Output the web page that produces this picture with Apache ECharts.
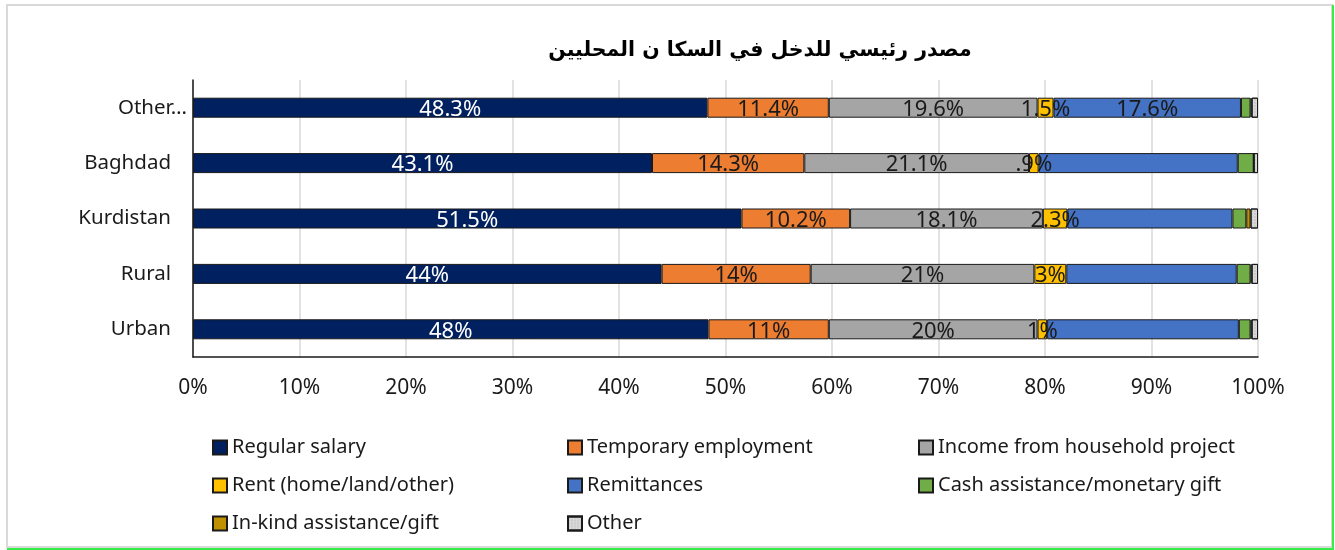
<!DOCTYPE html>
<html>
<head>
<meta charset="utf-8">
<script src="https://cdn.jsdelivr.net/npm/echarts@6/dist/echarts.min.js"></script>
<style>
  html, body { margin: 0; padding: 0; background: #fff; }
  #chart { width: 1335px; height: 550px; }
</style>
</head>
<body>
<div id="chart"></div>
<script>
// categories, bottom to top as ECharts draws them
const regions = ["Urban", "Rural", "Kurdistan", "Baghdad", "Other…"];
const labelDecimals = [0, 0, 1, 1, 1];
// only the top row carries a remittances label in the original
const remittanceLabelShown = [false, false, false, false, true];

const seriesNames = [
  "Regular salary",
  "Temporary employment",
  "Income from household project",
  "Rent (home/land/other)",
  "Remittances",
  "Cash assistance/monetary gift",
  "In-kind assistance/gift",
  "Other",
];

const regularSalary = [48.4, 44.0, 51.5, 43.1, 48.3];
const temporaryEmployment = [11.3, 14.0, 10.2, 14.3, 11.4];
const householdProject = [19.6, 21.0, 18.1, 21.1, 19.6];
const rent = [0.9, 3.0, 2.3, 0.9, 1.5];
const remittances = [18.0, 16.0, 15.5, 18.7, 17.6];
const cashAssistance = [1.1, 1.3, 1.3, 1.5, 0.9];
const inKindAssistance = [0.1, 0.1, 0.4, 0.0, 0.1];
const otherSource = [0.6, 0.6, 0.7, 0.4, 0.6];

const xTicks = [0, 10, 20, 30, 40, 50, 60, 70, 80, 90, 100];

const seriesValues = [
  regularSalary, temporaryEmployment, householdProject, rent,
  remittances, cashAssistance, inKindAssistance, otherSource,
];
const colors = ["#002060", "#ED7D31", "#A5A5A5", "#FFC000", "#4472C4", "#70AD47", "#BF9000", "#D9D9D9"];
const labelColors = ["#fff", "#1a1a1a", "#1a1a1a", "#1a1a1a", "#1a1a1a"];

const font = "Noto Sans";

function fmt(v, idx) {
  const d = labelDecimals[idx];
  let s = v.toFixed(d);
  if (d > 0) s = s.replace(/^0\./, ".");
  return s + "%";
}

const chart = echarts.init(document.getElementById("chart"));

const series = seriesNames.map((name, i) => ({
  name: name,
  type: "bar",
  stack: "total",
  barWidth: 20,
  data: seriesValues[i],
  itemStyle: {
    color: colors[i],
    borderColor: "#1a1a1a",
    borderWidth: 1,
    decal: i === 7 ? { symbol: "rect", symbolSize: 0.5, color: "rgba(120,120,120,0.6)", dashArrayX: [2, 1], dashArrayY: [2, 1] } : null,
  },
  label: {
    show: i < 5,
    position: "inside",
    color: labelColors[i] || "#1a1a1a",
    fontFamily: font,
    fontSize: 22,
    offset: [0, 2],
    formatter: (p) => {
      if (i === 4 && !remittanceLabelShown[p.dataIndex]) return "";
      return fmt(p.value, p.dataIndex);
    },
  },
  emphasis: { disabled: true },
}));

const legendBase = {
  orient: "vertical",
  top: 431,
  itemWidth: 14,
  itemHeight: 14,
  itemGap: 15,
  icon: "rect",
  selectedMode: false,
  textStyle: { fontFamily: font, fontSize: 20, color: "#1a1a1a", lineHeight: 23 },
};

const option = {
  animation: false,
  title: {
    text: "مصدر رئيسي للدخل في السكا ن المحليين",
    left: 755,
    top: 35,
    textAlign: "center",
    textStyle: { fontFamily: "DejaVu Sans", fontWeight: "bold", fontSize: 20.5, color: "#000" },
  },
  grid: { left: 193, right: 77, top: 80, bottom: 193 },
  xAxis: {
    type: "value",
    min: 0,
    max: 100,
    interval: 10,
    axisLine: { show: true, lineStyle: { color: "#1a1a1a", width: 1.5 } },
    axisTick: { show: false },
    splitLine: { show: true, lineStyle: { color: "#d9d9d9", width: 1.5 } },
    axisLabel: {
      margin: 21,
      fontFamily: font,
      fontSize: 21,
      color: "#1a1a1a",
      formatter: (v) => (xTicks.includes(v) ? v + "%" : ""),
    },
  },
  yAxis: {
    type: "category",
    data: regions,
    axisLine: { show: true, lineStyle: { color: "#1a1a1a", width: 1.5 } },
    axisTick: { show: false },
    axisLabel: {
      margin: 22,
      fontFamily: font,
      fontSize: 20.5,
      color: "#1a1a1a",
      formatter: (v) => (v === "Other…" ? "{o|" + v + "}" : v),
      rich: { o: { fontFamily: font, fontSize: 20.5, color: "#1a1a1a", padding: [0, -16, 0, 0] } },
    },
  },
  legend: [
    Object.assign({}, legendBase, { left: 207, data: [seriesNames[0], seriesNames[3], seriesNames[6]] }),
    Object.assign({}, legendBase, { left: 562, data: [seriesNames[1], seriesNames[4], seriesNames[7]] }),
    Object.assign({}, legendBase, { left: 913, data: [seriesNames[2], seriesNames[5]] }),
  ],
  graphic: [
    { type: "rect", shape: { x: 7, y: 5, width: 1325, height: 542 }, style: { fill: null, stroke: "#d9d9d9", lineWidth: 2 }, silent: true },
    { type: "line", shape: { x1: 1333, y1: 5, x2: 1333, y2: 549 }, style: { stroke: "#33ee44", lineWidth: 2 }, silent: true },
    { type: "line", shape: { x1: 7, y1: 549, x2: 1334, y2: 549 }, style: { stroke: "#33ee44", lineWidth: 2 }, silent: true },
  ],
  series: series,
};

chart.setOption(option);
window.addEventListener("resize", () => chart.resize());
</script>
</body>
</html>
